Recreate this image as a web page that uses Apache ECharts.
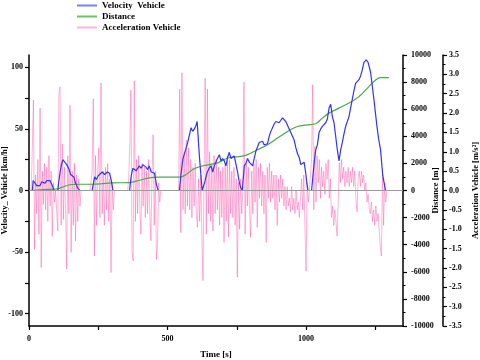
<!DOCTYPE html>
<html>
<head>
<meta charset="utf-8">
<script src="https://cdn.jsdelivr.net/npm/echarts/dist/echarts.min.js"></script>
<style>
  html, body { margin: 0; padding: 0; background: #fff; }
  #chart { width: 480px; height: 360px; }
</style>
</head>
<body>
<div id="chart"></div>
<script>
// [time s, km/h]
const velocity = [
  [0,0],[12,0],[15,8],[22,6],[28,4],[34,3],[40,4],[46,7],[52,6],[58,6],[64,8],[70,7],[76,8],[82,8],[86,3],[89,0],
  [104,0],[108,8],[113,16],[118,22],[122,25],[128,24],[136,21],[145,17],[150,13],[156,12],[162,11],[168,6],[176,2],[183,0],
  [228,0],[231,4],[237,11],[243,9],[250,12],[256,13],[264,15],[273,13],[283,15],[291,14],[297,8],[303,0],
  [363,0],[369,12],[375,18],[381,19],[387,16],[392,17],[398,20],[405,18],[411,21],[417,22],[422,19],[428,17],[434,20],[441,15],[447,16],[453,14],[460,5],[466,0],
  [543,0],[548,12],[555,25],[565,33],[573,39],[585,51],[591,48],[597,50],[603,53],[607,56],[615,28],[625,0],
  [632,0],[636,8],[642,14],[650,18],[657,20],[663,15],[669,20],[678,25],[687,29],[693,24],[699,26],[705,24],[711,20],[717,27],[723,31],[729,26],[735,25],[741,28],[747,27],[753,15],[758,8],[763,3],[770,0],
  [772,0],[777,20],[783,22],[789,26],[795,23],[801,24],[807,20],[813,26],[819,32],[825,33],[831,39],[837,40],[843,40],[849,37],[855,36],[861,38],[867,44],[873,48],[879,51],[885,54],[891,56],[897,56],[903,55],[909,57],[915,59],[921,58],[927,56],[933,53],[939,50],[945,47],[951,44],[957,41],[963,35],[969,30],[975,27],[981,21],[987,20],[993,23],[999,14],[1003,6],[1007,0],
  [1020,0],[1029,22],[1035,33],[1041,37],[1047,47],[1053,50],[1059,52],[1065,53],[1071,55],[1077,58],[1083,67],[1089,70],[1095,60],[1101,55],[1107,44],[1113,33],[1119,24],[1125,33],[1131,39],[1137,46],[1143,52],[1149,56],[1155,60],[1161,67],[1167,74],[1173,81],[1179,87],[1185,86],[1191,90],[1197,93],[1203,98],[1209,104],[1217,106],[1224,104],[1233,96],[1239,85],[1245,74],[1251,62],[1256,52],[1262,42],[1269,33],[1277,12],[1287,0],[1306,0]
];

// [time s, m]
const distance = [
  [0,0],[53,60],[86,100],[104,130],[129,316],[154,441],[183,460],[230,460],[262,500],[297,566],[363,580],
  [399,757],[435,933],[465,980],[543,980],[567,1176],[591,1544],[621,1790],[651,1911],[681,2035],
  [717,2400],[765,2520],[789,2646],[825,3013],[861,3380],[897,3870],[933,4360],[969,4725],[1005,4850],
  [1035,4925],[1059,5340],[1083,5710],[1119,6080],[1155,6450],[1191,6930],[1227,7670],[1251,8160],[1269,8330],[1299,8330]
];

// acceleration, one value every accStep seconds from t = 0 (m/s2)
const accStep = 4;
const accel = [
  0, 0, 0, 1.1, 2.34, -1.52, 0.4, -0.6, 0.8, -1.13,
  2.13, -1.99, 0.5, -0.36, 0.7, -0.5, 0.6, -0.8, 0.9, -0.4,
  0.5, -1.18, 0.2, -0.3, 0, 0, -1.05, 2.5, 2.68, -0.9,
  1.2, -0.75, 0.6, -0.5, -2.03, 0.9, -0.6, 2.2, -1.6, 0.5,
  -0.9, 0.7, -1.3, 0.4, -0.8, 0.3, -0.4, 0, 0, 0,
  0, 0, 0, 0, 0, 0, 0, 0.5, 2.37, -1.69,
  0.9, -0.9, 0.5, 1.1, -0.7, 2.78, -0.6, 0.5, -0.9, 0.6,
  -0.5, 0.7, -0.8, 0.3, -2.12, 0.2, -0.5, 0, 0, 0,
  0, 0, 0, 0, 0, 0, 0, 0, 0, 0,
  0.3, 1.2, 2.6, -1.6, -1.82, 2.83, -0.8, 0.8, -0.6, 0.9,
  -0.5, -1.13, 0.7, -0.4, 0.6, -0.7, 0.5, -0.6, 0.8, -0.6,
  -1.3, 0.4, 1.44, -0.9, 0.5, -1.78, -1.4, 0.2, -0.3, 0,
  0, 0, 0, 0, 0, 0, 0, 0, 0, 0,
  0, 0, 0, 0, 0, 0, 2.62, -1.09, 3.04, -0.5,
  1.0, -0.6, 1.3, -0.4, 1.1, -0.5, 0.8, -0.7, 0.6, -0.4,
  0.7, -0.6, -0.95, 0.3, -0.8, 0.4, -1.2, -2.33, 0.5, 2.9,
  -1.13, 2.62, -0.6, 1.0, -0.8, 0.7, -1.05, 0.9, -0.6, 0.8,
  -0.5, 0.6, -0.9, 0.5, -0.7, 0.6, -1.34, 0.7, -0.8, 0.9,
  -1.2, 0.8, -0.6, 0.5, -0.7, 0.6, -0.9, 0.3, -2.24, 0.2,
  -1.0, 0.3, -0.6, 0, 2.8, -1.13, 0.7, -0.4, 0.6, -0.5,
  -1.21, 0.5, -0.6, 0.7, -0.3, 0.8, -0.95, 0.6, -0.2, 0.7,
  -0.4, 0.5, -0.6, 0.4, -1.34, 0.6, -0.2, 0.7, -0.3, 0.5,
  -0.2, 0.4, -0.5, 0.4, -0.9, 0.3, -0.3, 0.4, -0.2, 0.3,
  -0.4, 0.1, -0.5, 0.1, -0.4, -0.2, -0.55, 0.1, -0.5, -0.2,
  -0.6, 0, -0.5, -0.3, -0.7, -0.69, 0.3, -0.5, 0.4, -0.9,
  -2.08, 0.2, -0.3, 0, 0, 0.8, 2.73, -0.5, 1.14, -0.3,
  0.9, 0.2, 0.8, -0.2, 0.6, 0.1, 0.5, -0.1, 0.7, 0.3,
  0.8, -0.2, 0.3, -0.7, -0.4, -0.9, -0.5, -0.8, -1.18, -0.3,
  0.72, 0.2, 0.8, 0.3, 0.6, 0.1, 0.5, 0.2, 0.6, 0.1,
  0.5, 0.2, 0.6, 0.1, 0.5, -0.2, -0.55, 0.3, 0.5, 0.1,
  0.5, 0.2, 0.4, 0, 0.2, -0.3, -0.1, -0.45, -0.6, -0.3,
  -0.8, -0.5, -0.9, -0.4, -0.8, -0.6, -1.0, -1.47, -1.69, 0.5,
  -0.9, 0.2, -0.3, 0, 0, 0, 0, 0
];

const timeTicks = [0, 250, 500, 750, 1000, 1250];
const velTicks = [-100, -75, -50, -25, 0, 25, 50, 75, 100];
const velLabels = [-100, -50, 0, 50, 100];

const font = 'Liberation Serif';
const labelStyle = { color: '#000', fontFamily: font, fontWeight: 'bold', fontSize: 8 };
const nameStyle = { color: '#000', fontFamily: font, fontWeight: 'bold', fontSize: 8.5 };
const axisLine = { show: true, onZero: false, lineStyle: { color: '#000', width: 1.5 } };
const tick = { show: true, inside: false, length: 4, lineStyle: { color: '#000', width: 1.2 } };
const minor = { show: true, splitNumber: 2, length: 2.5, lineStyle: { color: '#000', width: 1 } };
const plain = v => String(v);

const accData = accel.map((a, i) => [i * accStep, a]);

const chart = echarts.init(document.getElementById('chart'), null, { renderer: 'canvas' });
chart.setOption({
  animation: false,
  backgroundColor: '#fff',
  grid: { left: 29, right: 77, top: 55, bottom: 34, containLabel: false, outerBoundsMode: 'none' },
  legend: {
    orient: 'vertical',
    left: 77, top: 0, padding: 0,
    itemWidth: 20, itemHeight: 2, itemGap: 0,
    icon: 'rect',
    data: ['Velocity  Vehicle', 'Distance', 'Acceleration Vehicle'],
    textStyle: { color: '#000', fontFamily: font, fontWeight: 'bold', fontSize: 9, lineHeight: 11, padding: [0, 0, 0, 0] }
  },
  xAxis: {
    type: 'value', min: 0, max: 1350,
    name: 'Time [s]', nameLocation: 'middle', nameGap: 24, nameMoveOverlap: false,
    nameTextStyle: { ...nameStyle, fontSize: 9 },
    axisLine: axisLine,
    axisTick: { ...tick, customValues: timeTicks },
    axisLabel: { ...labelStyle, margin: 9, customValues: [0, 500, 1000], formatter: plain },
    splitLine: { show: false }
  },
  yAxis: [
    {
      type: 'value', min: -110, max: 110, position: 'left',
      name: 'Velocity_ Vehicle [km/h]', nameLocation: 'middle', nameGap: 20, nameRotate: 90, nameMoveOverlap: false,
      nameTextStyle: nameStyle,
      axisLine: axisLine,
      axisTick: { ...tick, customValues: velTicks },
      axisLabel: { ...labelStyle, margin: 6, customValues: velLabels, formatter: plain },
      splitLine: { show: false }
    },
    {
      type: 'value', min: -10000, max: 10000, interval: 2000, position: 'right', offset: 0,
      name: 'Distance [m]', nameLocation: 'middle', nameGap: 28, nameRotate: 90, nameMoveOverlap: false,
      nameTextStyle: nameStyle,
      axisLine: axisLine, axisTick: tick, minorTick: minor,
      axisLabel: { ...labelStyle, margin: 8, formatter: plain },
      splitLine: { show: false }
    },
    {
      type: 'value', min: -3.5, max: 3.5, interval: 0.5, position: 'right', offset: 40,
      name: 'Acceleration Vehicle [m/s²]', nameLocation: 'middle', nameGap: 28, nameRotate: 90, nameMoveOverlap: false,
      nameTextStyle: nameStyle,
      axisLine: axisLine, axisTick: tick, minorTick: minor,
      axisLabel: { ...labelStyle, margin: 6, formatter: v => v.toFixed(1) },
      splitLine: { show: false }
    }
  ],
  series: [
    {
      name: 'Acceleration Vehicle', type: 'line', yAxisIndex: 2, data: accData,
      showSymbol: false, z: 1,
      itemStyle: { color: '#ffb3d9' },
      lineStyle: { color: 'rgba(255, 40, 150, 0.5)', width: 0.7 }
    },
    {
      name: 'Distance', type: 'line', yAxisIndex: 1, data: distance,
      showSymbol: false, smooth: 0.3, z: 3,
      itemStyle: { color: '#6cc06c' },
      lineStyle: { color: '#4aa84a', width: 1.2 }
    },
    {
      name: 'Velocity  Vehicle', type: 'line', yAxisIndex: 0, data: velocity,
      showSymbol: false, z: 4,
      itemStyle: { color: '#7b7bff' },
      lineStyle: { color: '#3434f0', width: 1.2 },
      markLine: {
        silent: true, symbol: 'none', label: { show: false },
        lineStyle: { color: '#999', width: 1, type: 'solid' },
        data: [{ yAxis: 0 }]
      }
    }
  ]
});
</script>
</body>
</html>
